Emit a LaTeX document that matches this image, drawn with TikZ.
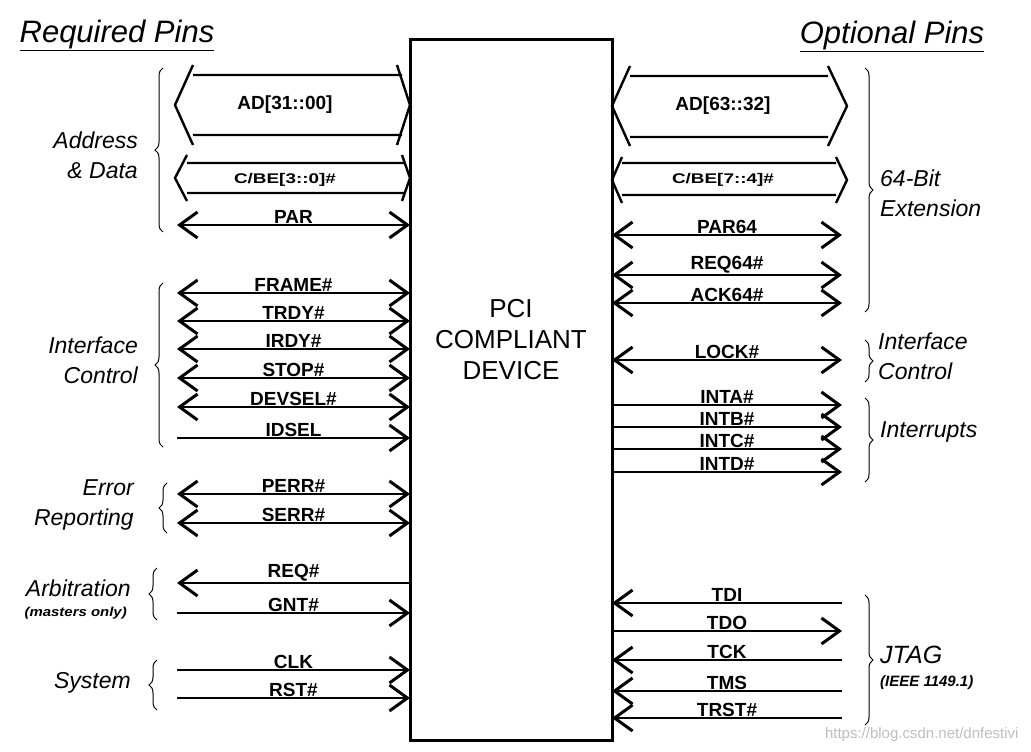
\documentclass[tikz,border=0pt]{standalone}
\usepackage{fontspec}
\setmainfont{Liberation Sans}
\usepackage{tikz}
\usetikzlibrary{arrows.meta,calc,decorations.pathreplacing}

\begin{document}
\begin{tikzpicture}[x=1pt,y=-1pt]
            \tikzset{
                device/.style={
                    draw,
                    line width=3pt,
                    minimum width=202pt,
                    minimum height=700pt,
                    outer sep=0pt
                }
            }
            \tikzset{
                sig/.style={
                    line width=1.8pt,
                    >={Straight Barb[length=18pt,width=26pt,line width=3pt]}
                }
            }
            \tikzset{
                bus/.style={
                    line width=2.4pt,
                    line join=miter
                }
            }
            \tikzset{
                lbl/.style={
                    anchor=south,
                    inner sep=0.6pt,
                    font=\fontsize{19}{19}\selectfont\bfseries
                }
            }
            \tikzset{
                grp/.style={
                    font=\fontsize{23}{30}\selectfont\itshape,
                    inner sep=0pt
                }
            }
            \tikzset{
                brace/.style={
                    decorate,
                    decoration={brace,amplitude=8pt},
                    line width=1pt
                }
            }

            \fill[white] (0,0) rectangle (1031,752);
            \useasboundingbox (0,0) rectangle (1031,752);

            % the device
            \node[device] (dev) at (511,390) {};
            \node[align=center,font=\fontsize{26}{31}\selectfont] (devtext) at (511,340) {PCI\\COMPLIANT\\DEVICE};

            % titles
            \node[font=\fontsize{31}{31}\selectfont\itshape] (reqpins) at (117,35) {\underline{Required Pins}};
            \node[font=\fontsize{31}{31}\selectfont\itshape] (optpins) at (892,36) {\underline{Optional Pins}};

            % left side: buses
            \draw[bus] (193,65) -- (175,105) -- (193,145)
                       (193,75) -- (402,75) (193,135) -- (402,135)
                       (397,65) -- (410,105) -- (397,145);
            \node[font=\fontsize{19}{19}\selectfont\bfseries] (ad0) at (285,105) {AD[31::00]};
            \draw[bus] (187,155) -- (175,178) -- (187,201)
                       (187,163) -- (404,163) (187,193) -- (404,193)
                       (402,155) -- (410,178) -- (402,201);
            \node[font=\fontsize{14}{14}\selectfont\bfseries,xscale=1.35] (cbe0) at (285,180) {C/BE[3::0]\#};

            % left side: single pins
            \coordinate (par) at (177,225);
            \coordinate (frame) at (177,293);
            \coordinate (trdy) at (177,321);
            \coordinate (irdy) at (177,349);
            \coordinate (stop) at (177,378);
            \coordinate (devsel) at (177,407);
            \coordinate (idsel) at (177,438);
            \coordinate (perr) at (177,494);
            \coordinate (serr) at (177,523);
            \coordinate (req) at (177,583);
            \coordinate (gnt) at (177,613);
            \coordinate (clk) at (177,670);
            \coordinate (rst) at (177,698);

            \draw[sig,<->] (par) -- (par -| dev.west) node[lbl,midway] (parl) {PAR};
            \draw[sig,<->] (frame) -- (frame -| dev.west) node[lbl,midway] (framel) {FRAME\#};
            \draw[sig,<->] (trdy) -- (trdy -| dev.west) node[lbl,midway] (trdyl) {TRDY\#};
            \draw[sig,<->] (irdy) -- (irdy -| dev.west) node[lbl,midway] (irdyl) {IRDY\#};
            \draw[sig,<->] (stop) -- (stop -| dev.west) node[lbl,midway] (stopl) {STOP\#};
            \draw[sig,<->] (devsel) -- (devsel -| dev.west) node[lbl,midway] (devsell) {DEVSEL\#};
            \draw[sig,->] (idsel) -- (idsel -| dev.west) node[lbl,midway] (idsell) {IDSEL};
            \draw[sig,<->] (perr) -- (perr -| dev.west) node[lbl,midway] (perrl) {PERR\#};
            \draw[sig,<->] (serr) -- (serr -| dev.west) node[lbl,midway] (serrl) {SERR\#};
            \draw[sig,->] (req -| dev.west) -- (req) node[lbl,midway] (reql) {REQ\#};
            \draw[sig,->] (gnt) -- (gnt -| dev.west) node[lbl,midway] (gntl) {GNT\#};
            \draw[sig,->] (clk) -- (clk -| dev.west) node[lbl,midway] (clkl) {CLK};
            \draw[sig,->] (rst) -- (rst -| dev.west) node[lbl,midway] (rstl) {RST\#};

            % left side: groups
            \draw[brace] (163,232) -- (163,68);
            \node[grp,anchor=east,align=right] (addr) at (138,155) {Address\\\& Data};
            \draw[brace] (163,447) -- (163,283);
            \node[grp,anchor=east,align=right] (ifc) at (138,360) {Interface\\Control};
            \draw[brace] (167,533) -- (167,483);
            \node[grp,anchor=east,align=right] (err) at (134,505) {Error\\Reporting};
            \draw[brace] (157,620) -- (157,568);
            \node[grp,anchor=east] (arb) at (131,588) {Arbitration};
            \node[font=\fontsize{13}{13}\selectfont\bfseries\itshape,xscale=1.15,anchor=east,inner sep=0pt] (mst) at (127,613) {(masters only)};
            \draw[brace] (157,710) -- (157,660);
            \node[grp,anchor=east] (sys) at (131,683) {System};

            % right side: buses
            \draw[bus] (630,66) -- (612,106) -- (630,146)
                       (630,76) -- (828,76) (630,137) -- (828,137)
                       (828,66) -- (847,106) -- (828,146);
            \node[font=\fontsize{19}{19}\selectfont\bfseries] (ad1) at (723,106) {AD[63::32]};
            \draw[bus] (622,157) -- (612,180) -- (622,203)
                       (622,163) -- (836,163) (622,195) -- (836,195)
                       (836,157) -- (847,180) -- (836,203);
            \node[font=\fontsize{14}{14}\selectfont\bfseries,xscale=1.35] (cbe1) at (723,180) {C/BE[7::4]\#};

            % right side: single pins
            \coordinate (par64) at (842,235);
            \coordinate (req64) at (842,275);
            \coordinate (ack64) at (842,303);
            \coordinate (lock) at (842,360);
            \coordinate (inta) at (842,405);
            \coordinate (intb) at (842,427);
            \coordinate (intc) at (842,449);
            \coordinate (intd) at (842,472);
            \coordinate (tdi) at (842,603);
            \coordinate (tdo) at (842,631);
            \coordinate (tck) at (842,660);
            \coordinate (tms) at (842,691);
            \coordinate (trst) at (842,718);

            \draw[sig,<->] (dev.east |- par64) -- (par64) node[lbl,midway] (par64l) {PAR64};
            \draw[sig,<->] (dev.east |- req64) -- (req64) node[lbl,midway] (req64l) {REQ64\#};
            \draw[sig,<->] (dev.east |- ack64) -- (ack64) node[lbl,midway] (ack64l) {ACK64\#};
            \draw[sig,<->] (dev.east |- lock) -- (lock) node[lbl,midway] (lockl) {LOCK\#};
            \draw[sig,->] (dev.east |- inta) -- (inta) node[lbl,midway] (intal) {INTA\#};
            \draw[sig,->] (dev.east |- intb) -- (intb) node[lbl,midway] (intbl) {INTB\#};
            \draw[sig,->] (dev.east |- intc) -- (intc) node[lbl,midway] (intcl) {INTC\#};
            \draw[sig,->] (dev.east |- intd) -- (intd) node[lbl,midway] (intdl) {INTD\#};
            \draw[sig,->] (tdi) -- (dev.east |- tdi) node[lbl,midway] (tdil) {TDI};
            \draw[sig,->] (dev.east |- tdo) -- (tdo) node[lbl,midway] (tdol) {TDO};
            \draw[sig,->] (tck) -- (dev.east |- tck) node[lbl,midway] (tckl) {TCK};
            \draw[sig,->] (tms) -- (dev.east |- tms) node[lbl,midway] (tmsl) {TMS};
            \draw[sig,->] (trst) -- (dev.east |- trst) node[lbl,midway] (trstl) {TRST\#};

            % right side: groups
            \draw[brace] (865,68) -- (865,312);
            \node[grp,anchor=west,align=left] (ext) at (880,193) {64-Bit\\Extension};
            \draw[brace] (865,340) -- (865,382);
            \node[grp,anchor=west,align=left] (ifc2) at (878,356) {Interface\\Control};
            \draw[brace] (865,398) -- (865,482);
            \node[grp,anchor=west] (irq) at (880,432) {Interrupts};
            \draw[brace] (865,595) -- (865,725);
            \node[grp,anchor=west,font=\fontsize{25}{25}\selectfont\itshape] (jtag) at (880,655) {JTAG};
            \node[font=\fontsize{15}{15}\selectfont\bfseries\itshape,anchor=west,inner sep=0pt] (ieee) at (880,683) {(IEEE 1149.1)};

            % watermark
            \node[font=\fontsize{15}{15}\selectfont,text=black!25,anchor=east] (wm) at (1022,735) {https://blog.csdn.net/dnfestivi};
        \end{tikzpicture}
\end{document}
